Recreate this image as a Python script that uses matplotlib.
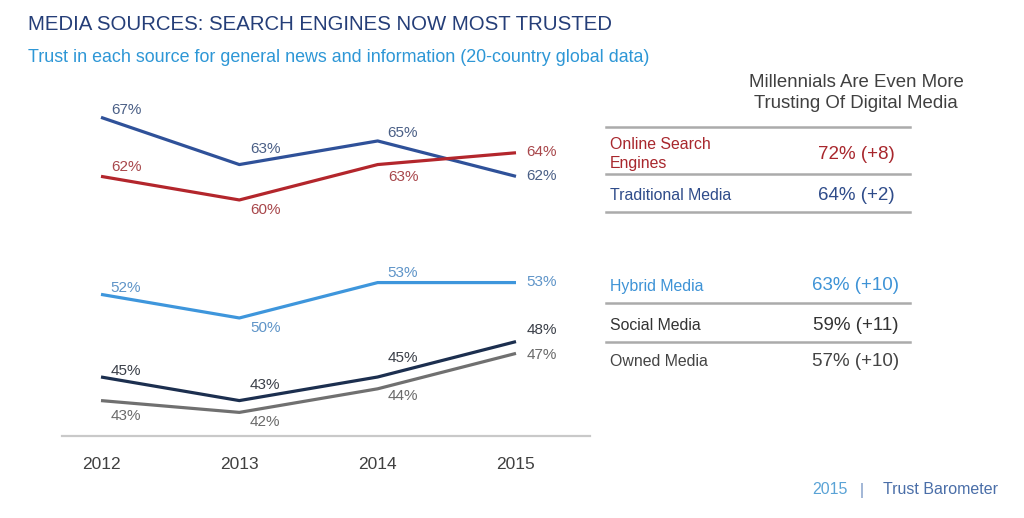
import matplotlib
matplotlib.use("Agg")
import matplotlib.pyplot as plt
from matplotlib import font_manager

years = [2012, 2013, 2014, 2015]
traditional = [67, 63, 65, 62]
search = [62, 60, 63, 64]
hybrid = [52, 50, 53, 53]
social = [45, 43, 45, 48]
owned = [43, 42, 44, 47]

table_names = ["Online Search\nEngines", "Traditional Media", "Hybrid Media", "Social Media", "Owned Media"]
table_values = ["72% (+8)", "64% (+2)", "63% (+10)", "59% (+11)", "57% (+10)"]

W, H = 1024, 518
names = {f.name for f in font_manager.fontManager.ttflist}
BASE = "Liberation Sans"
NARROW = "Liberation Sans Narrow" if "Liberation Sans Narrow" in names else BASE
plt.rcParams["font.family"] = [BASE, "DejaVu Sans"]


def fx(x):
    return x / W


def fy(y):
    return 1 - y / H


fig = plt.figure(figsize=(W / 100, H / 100), dpi=100)
fig.patch.set_facecolor("white")

ax = fig.add_axes([fx(62), fy(436), fx(590 - 62), (436 - 100) / H])
ax.set_xlim(2011.718, 2015.535)
ax.set_ylim(40, 68.47)

# series: values, line colour, label colour, label offsets in pixels (dx, dy up)
series = [
    (traditional, "#2F5199", "#4A5F86", [(25, 7), (26, 16), (25, 8), (26, 0)]),
    (search, "#B3262C", "#A8474B", [(25, 9), (26, -10), (26, -12), (26, 1)]),
    (hybrid, "#3E96DC", "#5E94C8", [(25, 6), (26, -10), (25, 10), (26, 1)]),
    (social, "#1C2F4F", "#3A3F48", [(25, 6), (26, 16), (25, 19), (26, 12)]),
    (owned, "#707070", "#6A6A6A", [(25, -15), (26, -10), (25, -7), (26, -2)]),
]
for vals, lc, tc, offs in series:
    ax.plot(years, vals, color=lc, lw=2.3, solid_joinstyle="round", solid_capstyle="butt")
    for x, v, (dx, dy) in zip(years, vals, offs):
        ax.annotate(f"{v}%", (x, v), xytext=(dx, dy), textcoords="offset pixels",
                    ha="center", va="center", fontsize=11, color=tc)

for s in ["top", "right", "left"]:
    ax.spines[s].set_visible(False)
ax.spines["bottom"].set_color("#C9C9C9")
ax.spines["bottom"].set_linewidth(1.6)
ax.set_yticks([])
ax.set_xticks(years)
ax.set_xticklabels([str(y) for y in years], fontsize=12.5, color="#404040")
ax.tick_params(axis="x", length=0, pad=15)

# titles
fig.text(fx(28), fy(25), "MEDIA SOURCES: SEARCH ENGINES NOW MOST TRUSTED", family=NARROW,
         fontsize=14.7, color="#253E78", ha="left", va="center")
fig.text(fx(28), fy(58), "Trust in each source for general news and information (20-country global data)",
         family=NARROW, fontsize=12.9, color="#2E97D6", ha="left", va="center")

# right-hand table
fig.text(fx(856), fy(93), "Millennials Are Even More\nTrusting Of Digital Media", fontsize=13.4,
         color="#404040", ha="center", va="center", linespacing=1.3)
for y in [127, 174, 212, 303, 342]:
    fig.add_artist(plt.Line2D([fx(606), fx(910)], [fy(y), fy(y)], color="#ABABAB", lw=1.8))

row_y = [154, 196, 286, 325, 361]
row_colors = ["#A8272D", "#2F4C8A", "#3E93D6", "#333333", "#444444"]
for name, val, y, c in zip(table_names, table_values, row_y, row_colors):
    fig.text(fx(610), fy(y), name, fontsize=11.4, color=c, ha="left", va="center", linespacing=1.3)
    fig.text(fx(856), fy(y), val, fontsize=13.5, color=c, ha="center", va="center")

# footer
fig.text(fx(812), fy(490), "2015", fontsize=11.5, color="#5AA3D6", ha="left", va="center")
fig.text(fx(862), fy(490), "|", fontsize=11.5, color="#6F8FC0", ha="center", va="center")
fig.text(fx(998), fy(490), "Trust Barometer", fontsize=11.5, color="#4A6EA8", ha="right", va="center")

fig.savefig("out.png", dpi=100, facecolor="white")
